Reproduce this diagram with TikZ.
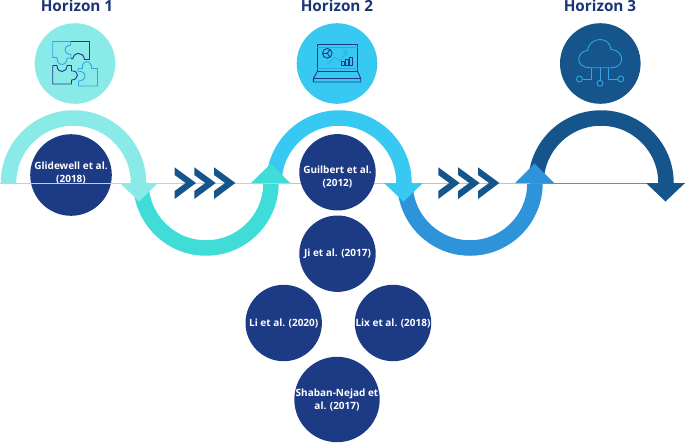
\documentclass[tikz,border=0pt]{standalone}
\usepackage{fontspec}
\setmainfont{Open Sans}
\definecolor{cLight}{HTML}{8AEAE8}
\definecolor{cTeal}{HTML}{40DDD8}
\definecolor{cCyan}{HTML}{38C9F2}
\definecolor{cBlue}{HTML}{2E93D8}
\definecolor{cDark}{HTML}{15558C}
\definecolor{cNavy}{HTML}{1D3B84}
\definecolor{cIcon}{HTML}{2EA6E8}
\tikzset{
  ring/.style={line width=15.5pt},
  ref/.style={circle,fill=cNavy,inner sep=0pt},
  reftext/.style={inner sep=0pt,align=center,text=white,font=\bfseries\fontsize{10}{13.8}\selectfont},
  iconbg/.style={circle,inner sep=0pt,minimum size=80.6pt},
  head/.style={text=cNavy!90!black,font=\bfseries\fontsize{15.3}{18}\selectfont,inner sep=0pt,anchor=base},
  chev/.style={fill=cDark,draw=none},
  iconline/.style={line width=0.9pt,line join=round},
}
\newcommand{\chevron}[1]{\fill[chev] (#1,167.3) -- (#1+21.4,183) -- (#1,199) -- (#1,191) -- (#1+11,183) -- (#1,175) -- cycle;}
\begin{document}
\begin{tikzpicture}[x=1pt,y=-1pt]
\useasboundingbox (0,0) rectangle (685,442);
% rings
\draw[ring,cLight] (8.5,183) arc[start angle=180,end angle=360,radius=65];
\draw[ring,cTeal] (141,183) arc[start angle=180,end angle=0,radius=65];
\draw[ring,cCyan] (274,183) arc[start angle=180,end angle=360,radius=65];
\draw[ring,cBlue] (405,183) arc[start angle=180,end angle=0,radius=65];
\draw[ring,cDark] (536,183) arc[start angle=180,end angle=360,radius=65];
% first reference circle lies under the base line
\node[ref,minimum size=81.6pt] (glide) at (71,175) {};
\node[reftext] (glideT) at (71,173) {Glidewell et al.\\(2018)};
% base line
\coordinate (b0) at (0,183.2);
\coordinate (b1) at (290,183.2);
\coordinate (b2) at (530,183.2);
\coordinate (b3) at (685,183.2);
\draw[cLight,line width=0.9pt] (b0) -- (b1);
\draw[cLight!75!cCyan,line width=0.9pt] (b1) -- (b2);
\draw[cDark!65!white,line width=0.9pt] (b2) -- (b3);
% arrow heads
\fill[cLight] (120,183) -- (158,183) -- (139,201.5) -- cycle;
\fill[cTeal] (251,183) -- (290,183) -- (271,163.5) -- cycle;
\fill[cCyan] (384,183) -- (423,183) -- (403.5,201.5) -- cycle;
\fill[cBlue] (515,183) -- (554,183) -- (534.5,163.5) -- cycle;
\fill[cDark] (646,183) -- (685,183) -- (665.5,201.5) -- cycle;
% chevrons
\chevron{174.6}\chevron{194.3}\chevron{214}
\chevron{438.3}\chevron{458.2}\chevron{478}
% reference circles
\node[ref,minimum size=76.4pt] (guil) at (337.5,172.3) {};
\node[reftext] (guilT) at (337.5,177) {Guilbert et al.\\(2012)};
\node[ref,minimum size=76.4pt] (ji) at (337.5,253.7) {};
\node[reftext] (jiT) at (337.5,254.2) {Ji et al. (2017)};
\node[ref,minimum size=76.4pt] (li) at (283.7,323) {};
\node[reftext] (liT) at (283.7,323.3) {Li et al. (2020)};
\node[ref,minimum size=76.4pt] (lix) at (393,323) {};
\node[reftext] (lixT) at (393,323.3) {Lix et al. (2018)};
\node[ref,minimum size=85.4pt] (shab) at (337,399.5) {};
\node[reftext] (shabT) at (337,400) {Shaban-Nejad et\\al. (2017)};
% headings
\node[head] (h1) at (77,11.5) {Horizon 1};
\node[head] (h2) at (337,11.5) {Horizon 2};
\node[head] (h3) at (600,11.5) {Horizon 3};
% icon discs
\node[iconbg,fill=cLight] (i1) at (75,63.5) {};
\node[iconbg,fill=cCyan] (i2) at (337,63.5) {};
\node[iconbg,fill=cDark] (i3) at (600.3,63.5) {};
% puzzle icon
\draw[iconline,cIcon] (70,41.5) -- (52.7,41.5) -- (52.7,57.5) -- (57,57.5) .. controls (57,60) and (58,64.5) .. (62,64.5) .. controls (66,64.5) and (67,60) .. (67,58) -- (71,58);
\draw[iconline,cIcon] (70.5,41.5) -- (70.5,45) .. controls (66,45.5) and (65,48) .. (65,50) .. controls (65,52) and (67,54.5) .. (71,54.5) -- (71,58);
\draw[iconline,cNavy] (70.5,41.5) -- (89.5,41.5) -- (89.5,59.5) -- (84.5,59.5) .. controls (84,55) and (81,53.5) .. (78.5,53.5) .. controls (75,53.5) and (73,56) .. (72.5,59) -- (71,58.5);
\draw[iconline,cNavy] (52.7,65.5) -- (57,65.5) .. controls (57,70) and (60,71.5) .. (62,71.5) .. controls (65,71.5) and (67,69) .. (67,65.5) -- (71.5,65.5) -- (71.5,71) .. controls (75,70.5) and (77.5,72.5) .. (77.5,75) .. controls (77.5,78) and (75,80) .. (71.5,80) -- (71.5,84) -- (52.7,84) -- cycle;
\draw[iconline,cIcon] (78.5,86) -- (97.5,86) -- (97.5,68.5) -- (91.5,68.5) .. controls (92,64) and (89,61.7) .. (87,61.7) .. controls (84,61.7) and (82,64) .. (82.5,68.5) -- (78,68.5) -- (78,71) .. controls (83,71) and (85,74) .. (85,76) .. controls (85,79) and (82,81) .. (78.5,81) -- cycle;
% laptop icon
\draw[iconline,cNavy] (317.3,71.5) -- (317.3,44) -- (357.7,44) -- (357.7,71.5);
\draw[iconline,cNavy] (317.3,71.5) -- (357.7,71.5) -- (360.7,78.5) -- (360.7,82) -- (313.3,82) -- (313.3,78.5) -- cycle;
\draw[iconline,cNavy] (313.3,78.5) -- (360.7,78.5);
\draw[line width=0.7pt,cIcon] (317.3,68.5) -- (357.7,68.5);
\draw[line width=0.7pt,cIcon] (317.3,47.5) -- (357.7,47.5);
\draw[iconline,cNavy] (327.3,53.3) circle[radius=4.8];
\draw[iconline,cNavy] (322.6,53.3) -- (327.3,53.3) -- (330,49.5) (327.3,53.3) -- (330,57);
\draw[line width=0.7pt,cIcon] (326.7,64.5) -- (335,57.5) -- (340,61) -- (346.5,51.5);
\draw[line width=0.7pt,cIcon] (342,52) -- (346.8,51) -- (346.8,55.5);
\draw[iconline,cNavy] (341.7,65) rectangle (344.7,61.5);
\draw[iconline,cNavy] (345.7,65) rectangle (348.7,59.5);
\draw[iconline,cNavy] (349.7,65) rectangle (352.7,57.5);
% cloud icon
\draw[iconline,cIcon] (589.5,67.7) .. controls (583,67.7) and (578.7,64) .. (578.7,59.5) .. controls (578.7,54.5) and (583,50.5) .. (587.5,50.5) .. controls (588,44) and (594,39.5) .. (600,39.5) .. controls (606,39.5) and (610.5,43.5) .. (611,49.5) .. controls (617,49.5) and (621.7,54) .. (621.7,59) .. controls (621.7,64) and (617.5,67.7) .. (612,67.7) -- cycle;
\draw[iconline,cIcon] (591.7,67.7) -- (591.7,79) -- (582.5,79);
\draw[iconline,cIcon] (608.3,67.7) -- (608.3,79) -- (617.8,79);
\draw[iconline,cIcon] (600,67.7) -- (600,80.3);
\draw[iconline,cIcon] (579.5,79) circle[radius=3];
\draw[iconline,cIcon] (620.8,79) circle[radius=3];
\draw[iconline,cIcon] (600,83.3) circle[radius=3];
\end{tikzpicture}
\end{document}
